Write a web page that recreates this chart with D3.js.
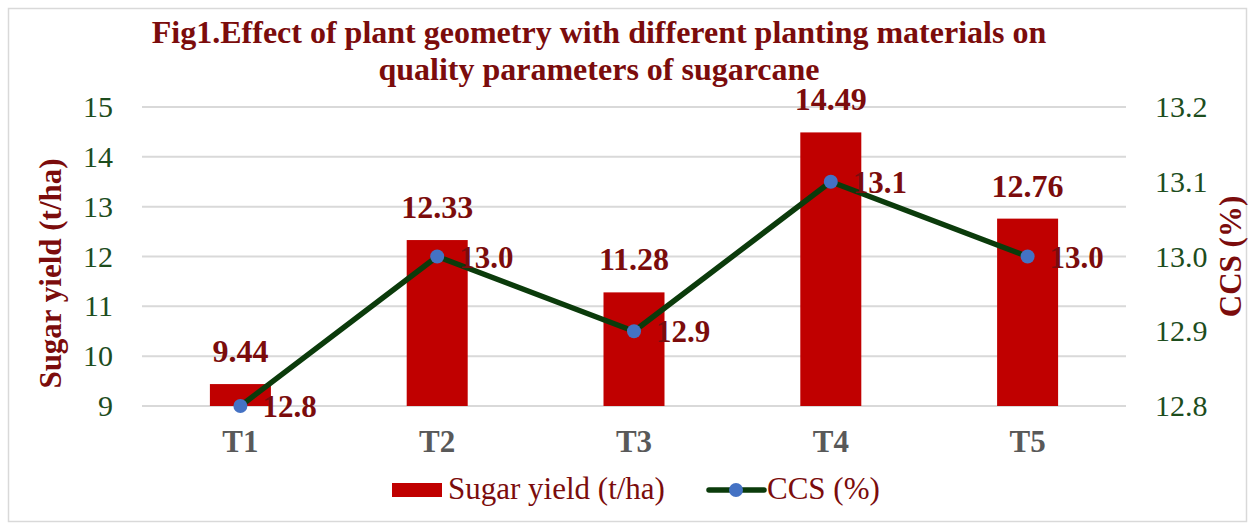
<!DOCTYPE html>
<html>
<head>
<meta charset="utf-8">
<script src="https://cdn.jsdelivr.net/npm/d3@7"></script>
<style>
  body { margin: 0; background: #fff; }
</style>
</head>
<body>
<div id="chart"></div>
<script>
const categories = ['T1', 'T2', 'T3', 'T4', 'T5'];
const sugarYield = [9.44, 12.33, 11.28, 14.49, 12.76];
const ccs = [12.8, 13.0, 12.9, 13.1, 13.0];
const leftTicks = [9, 10, 11, 12, 13, 14, 15];
const rightTicks = [12.8, 12.9, 13.0, 13.1, 13.2];

const W = 1250, H = 525;
const margin = { top: 107, right: 124, bottom: 119, left: 142 };
const width = W - margin.left - margin.right;
const height = H - margin.top - margin.bottom;
const serif = 'Liberation Serif';

const svg = d3.select('#chart').append('svg')
  .attr('width', W).attr('height', H)
  .attr('font-family', serif);

svg.append('rect')
  .attr('x', 8.5).attr('y', 8.5)
  .attr('width', W - 12).attr('height', H - 12)
  .attr('fill', '#fff').attr('stroke', '#d9d9d9').attr('stroke-width', 1.5);

const titleColor = '#7b0c0c';
const tickGreen = '#1d4d1d';

// title
svg.append('text')
  .attr('x', 599).attr('y', 43)
  .attr('text-anchor', 'middle')
  .attr('font-size', 32).attr('font-weight', 'bold')
  .attr('fill', titleColor)
  .text('Fig1.Effect of plant geometry with different planting materials on');
svg.append('text')
  .attr('x', 599).attr('y', 80)
  .attr('text-anchor', 'middle')
  .attr('font-size', 32).attr('font-weight', 'bold')
  .attr('fill', titleColor)
  .text('quality parameters of sugarcane');

const g = svg.append('g').attr('transform', `translate(${margin.left},${margin.top})`);

const x = d3.scaleBand().domain(categories).range([0, width]);
const yL = d3.scaleLinear().domain([9, 15]).range([height, 0]);
const yR = d3.scaleLinear().domain([12.8, 13.2]).range([height, 0]);

// grid
g.append('g')
  .selectAll('line')
  .data(leftTicks)
  .join('line')
  .attr('x1', 0).attr('x2', width)
  .attr('y1', d => yL(d)).attr('y2', d => yL(d))
  .attr('stroke', '#d9d9d9').attr('stroke-width', 2);

// left axis
const leftAxis = g.append('g')
  .call(d3.axisLeft(yL).tickValues(leftTicks).tickSize(0).tickPadding(29).tickFormat(d3.format('d')));
leftAxis.select('.domain').remove();
leftAxis.selectAll('text')
  .attr('font-size', 30).attr('fill', tickGreen);

// right axis
const rightAxis = g.append('g')
  .attr('transform', `translate(${width},0)`)
  .call(d3.axisRight(yR).tickValues(rightTicks).tickSize(0).tickPadding(29).tickFormat(d3.format('.1f')));
rightAxis.select('.domain').remove();
rightAxis.selectAll('text')
  .attr('font-size', 30).attr('fill', tickGreen);

// bottom axis
const bottomAxis = g.append('g')
  .attr('transform', `translate(0,${height})`)
  .call(d3.axisBottom(x).tickSize(0).tickPadding(24));
bottomAxis.select('.domain').remove();
bottomAxis.selectAll('text')
  .attr('font-size', 31).attr('font-weight', 'bold').attr('fill', '#595959');

// axis titles
svg.append('text')
  .attr('transform', `translate(61,${margin.top + height / 2 + 17}) rotate(-90)`)
  .attr('text-anchor', 'middle')
  .attr('font-size', 31).attr('font-weight', 'bold').attr('fill', titleColor)
  .text('Sugar yield (t/ha)');
svg.append('text')
  .attr('transform', `translate(1241,${margin.top + height / 2}) rotate(-90)`)
  .attr('text-anchor', 'middle')
  .attr('font-size', 31).attr('font-weight', 'bold').attr('fill', titleColor)
  .text('CCS (%)');

// bars
const barW = 61;
const data = categories.map((c, i) => ({ cat: c, yld: sugarYield[i], ccs: ccs[i] }));
g.selectAll('.bar')
  .data(data)
  .join('rect')
  .attr('class', 'bar')
  .attr('x', d => x(d.cat) + x.bandwidth() / 2 - barW / 2)
  .attr('y', d => yL(d.yld))
  .attr('width', barW)
  .attr('height', d => height - yL(d.yld))
  .attr('fill', '#c00000');

// line
const line = d3.line()
  .x(d => x(d.cat) + x.bandwidth() / 2)
  .y(d => yR(d.ccs));
g.append('path')
  .datum(data)
  .attr('d', line)
  .attr('fill', 'none')
  .attr('stroke', '#0b3b0b')
  .attr('stroke-width', 5.5)
  .attr('stroke-linejoin', 'round');

g.selectAll('.pt')
  .data(data)
  .join('circle')
  .attr('class', 'pt')
  .attr('cx', d => x(d.cat) + x.bandwidth() / 2)
  .attr('cy', d => yR(d.ccs))
  .attr('r', 7)
  .attr('fill', '#4472c4');

// bar labels
g.selectAll('.blab')
  .data(data)
  .join('text')
  .attr('class', 'blab')
  .attr('x', d => x(d.cat) + x.bandwidth() / 2)
  .attr('y', d => yL(d.yld) - 22)
  .attr('text-anchor', 'middle')
  .attr('font-size', 32).attr('font-weight', 'bold').attr('fill', titleColor)
  .text(d => d3.format('.2f')(d.yld));

// line labels
g.selectAll('.llab')
  .data(data)
  .join('text')
  .attr('class', 'llab')
  .attr('x', d => x(d.cat) + x.bandwidth() / 2 + 22)
  .attr('y', d => yR(d.ccs) + 11)
  .attr('font-size', 31).attr('font-weight', 'bold').attr('fill', titleColor)
  .text(d => d3.format('.1f')(d.ccs));

// legend
const lg = svg.append('g').attr('transform', 'translate(0,490)');
lg.append('rect').attr('x', 392).attr('y', -7).attr('width', 50).attr('height', 14).attr('fill', '#c00000');
lg.append('text').attr('x', 448).attr('y', 9)
  .attr('font-size', 31).attr('fill', titleColor).text('Sugar yield (t/ha)');
lg.append('line').attr('x1', 709).attr('x2', 764).attr('y1', 0).attr('y2', 0)
  .attr('stroke', '#0b3b0b').attr('stroke-width', 5.5).attr('stroke-linecap', 'round');
lg.append('circle').attr('cx', 736).attr('cy', 0).attr('r', 7).attr('fill', '#4472c4');
lg.append('text').attr('x', 767).attr('y', 9)
  .attr('font-size', 31).attr('fill', titleColor).text('CCS (%)');

// axis groups set sans-serif, so force the serif face on every text
svg.selectAll('text').attr('font-family', serif);
</script>
</body>
</html>
